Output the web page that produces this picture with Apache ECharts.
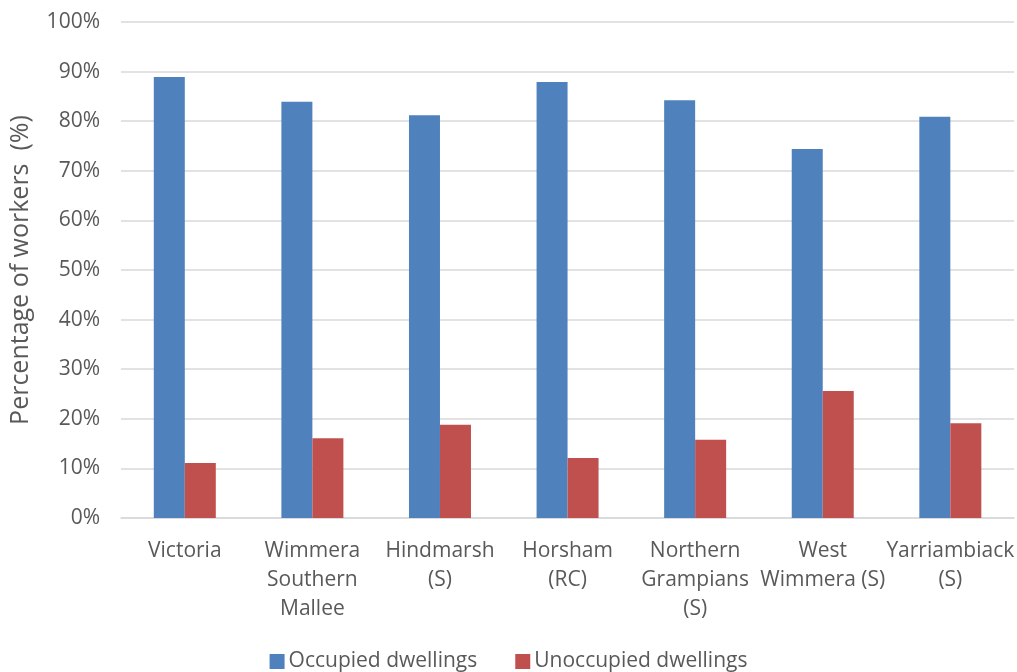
<!DOCTYPE html>
<html><head><meta charset="utf-8">
<script src="https://cdn.jsdelivr.net/npm/echarts@6/dist/echarts.min.js"></script>
<style>html,body{margin:0;padding:0;background:#fff}#c{width:1017px;height:672px}</style>
</head><body><div id="c"></div>
<script>
const categories = ["Victoria", "Wimmera\nSouthern\nMallee", "Hindmarsh\n(S)", "Horsham\n(RC)", "Northern\nGrampians\n(S)", "West\nWimmera (S)", "Yarriambiack\n(S)"];
const occupied = [88.9, 83.9, 81.2, 87.9, 84.2, 74.4, 80.9];
const unoccupied = [11.1, 16.1, 18.8, 12.1, 15.8, 25.6, 19.1];
const seriesNames = ["Occupied dwellings", "Unoccupied dwellings"];
const yTicks = [0, 10, 20, 30, 40, 50, 60, 70, 80, 90, 100];

const font = "Open Sans";
const txt = "#595959";
const chart = echarts.init(document.getElementById('c'));
chart.setOption({
  animation: false,
  textStyle: {fontFamily: font},
  grid: {left: 119, right: 1, top: 22, bottom: 154},
  legend: {
    bottom: -5, left: 'center', itemWidth: 15, itemHeight: 15, itemGap: 38,
    icon: 'rect',
    textStyle: {fontFamily: font, fontSize: 21, color: txt, padding: [0, 0, 0, -1]},
    data: seriesNames
  },
  xAxis: {
    type: 'category', data: categories,
    axisLine: {lineStyle: {color: '#d9d9d9', width: 1.5}},
    axisTick: {show: false},
    axisLabel: {interval: 0, color: txt, fontSize: 21, lineHeight: 29, margin: 19, fontFamily: font}
  },
  yAxis: {
    type: 'value', min: yTicks[0], max: yTicks[yTicks.length-1], interval: 10,
    name: 'Percentage of workers  (%)', nameLocation: 'middle', nameGap: 88,
    nameTextStyle: {fontSize: 25, color: txt, fontFamily: font},
    axisLine: {show: false}, axisTick: {show: false},
    axisLabel: {color: txt, fontSize: 21, formatter: v => v + '%', margin: 21, fontFamily: font},
    splitLine: {lineStyle: {color: '#d9d9d9', width: 1.5}}
  },
  series: [
    {name: seriesNames[0], type: 'bar', data: occupied, barWidth: 31, barGap: '0%', itemStyle: {color: '#4F81BD'}},
    {name: seriesNames[1], type: 'bar', data: unoccupied, barWidth: 31, itemStyle: {color: '#C0504D'}}
  ]
});
</script></body></html>
